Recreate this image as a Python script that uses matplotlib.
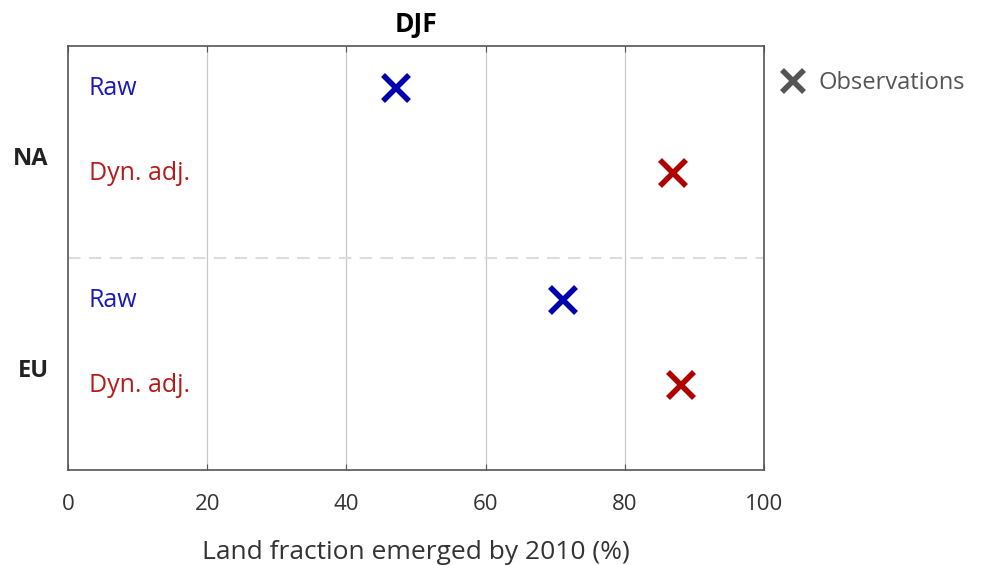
import matplotlib
matplotlib.use("Agg")
import matplotlib.pyplot as plt
from matplotlib.lines import Line2D

plt.rcParams['font.family'] = ['Open Sans', 'DejaVu Sans']

# data
regions = ['NA', 'EU']
region_pos = [2.6, 7.6]
row_labels = ['Raw', 'Dyn. adj.', 'Raw', 'Dyn. adj.']
row_pos = [1, 3, 6, 8]
row_colors = ['#1a1ab8', '#b81a1a', '#1a1ab8', '#b81a1a']
marker_colors = ['#0000b0', '#b00000', '#0000b0', '#b00000']
obs_values = [47.1, 86.9, 71.1, 88.1]
xticks = [0, 20, 40, 60, 80, 100]

fig = plt.figure(figsize=(9.9, 5.65), dpi=100)
ax = fig.add_axes([0.0687, 0.168, 0.703, 0.751])

for x in xticks[1:-1]:
    ax.axvline(x, color='#c8c8c8', lw=0.9, zorder=0)
ax.axhline(5, color='#dcdcdc', lw=1.5, ls=(0, (6, 4)), zorder=0)

for y, lab, c in zip(row_pos, row_labels, row_colors):
    ax.text(3, y, lab, color=c, fontsize=18, va='center', ha='left')

for y, v, c in zip(row_pos, obs_values, marker_colors):
    ax.plot(v, y, marker='x', color=c, ms=19, mew=4, ls='none')

ax.set_xlim(0, 100)
ax.set_ylim(10, 0)
ax.set_xticks(xticks)
ax.set_xticklabels([str(t) for t in xticks], fontsize=16, color='#333333')
ax.set_yticks(region_pos)
ax.set_yticklabels(regions, fontsize=17, fontweight='bold', color='#222222')
ax.tick_params(axis='x', direction='in', length=4, pad=17, top=True, color='#555555')
ax.tick_params(axis='y', length=0, pad=14)
for s in ax.spines.values():
    s.set_color('#555555')
    s.set_linewidth(1.2)

ax.set_xlabel('Land fraction emerged by 2010 (%)', fontsize=19, color='#333333', labelpad=18)
ax.set_title('DJF', fontsize=19, fontweight='bold', pad=10)

handle = Line2D([], [], marker='x', color='#555555', ms=16, mew=4, ls='none')
ax.legend([handle], ['Observations'], loc='upper left', bbox_to_anchor=(0.977, 0.99),
          frameon=False, fontsize=17, handletextpad=0.1, labelcolor='#555555')

fig.savefig('out.png', dpi=100)
